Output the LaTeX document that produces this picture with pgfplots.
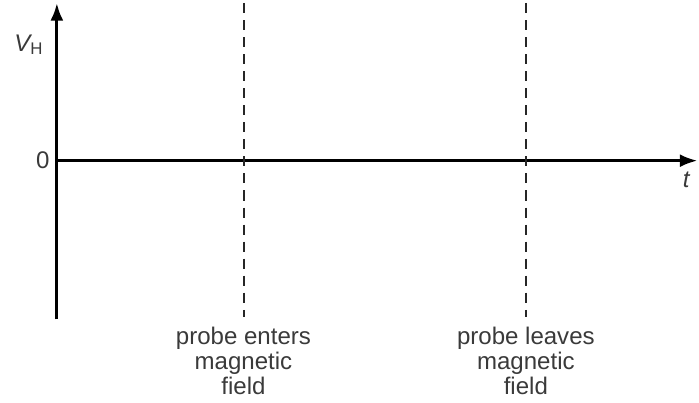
\documentclass[border=0pt]{standalone}
\usepackage{pgfplots}
\pgfplotsset{compat=1.18}
\usepackage{fontspec}
\setmainfont{Liberation Sans}
\usetikzlibrary{arrows.meta}
\definecolor{txt}{HTML}{3A3A3A}
\begin{document}
\begin{tikzpicture}
\begin{axis}[
    width=10.5cm, height=5.979cm,
    scale only axis,
    xmin=0, xmax=699,
    ymin=-398, ymax=0,
    hide axis,
    clip=false,
    font=\fontsize{10.3}{10.8}\selectfont,
]
% axes
\addplot[black, line width=1.3pt, -{Latex[length=7.5pt,width=5.5pt]}] coordinates {(57,-320) (57,-3)};
\addplot[black, line width=1.3pt, -{Latex[length=7.5pt,width=5.5pt]}] coordinates {(57,-161) (699,-161)};
% probe enters / leaves
\addplot[black!85, line width=0.95pt, dash pattern=on 4.3pt off 3pt] coordinates {(244.5,-3) (244.5,-318)};
\addplot[black!85, line width=0.95pt, dash pattern=on 4.3pt off 3pt] coordinates {(527,-3) (527,-318)};

\node[txt] at (axis cs:29,-45) {$\mathit{V}_{\mathrm{H}}$};
\node[txt] at (axis cs:43,-161) {0};
\node[txt] at (axis cs:688,-180) {\textit{t}};
\node[txt, anchor=north, align=center] at (axis cs:244,-319) {probe enters\\magnetic\\field};
\node[txt, anchor=north, align=center] at (axis cs:527,-319) {probe leaves\\magnetic\\field};
\path (axis cs:0,0) (axis cs:699,-398);
\end{axis}
\end{tikzpicture}
\end{document}
